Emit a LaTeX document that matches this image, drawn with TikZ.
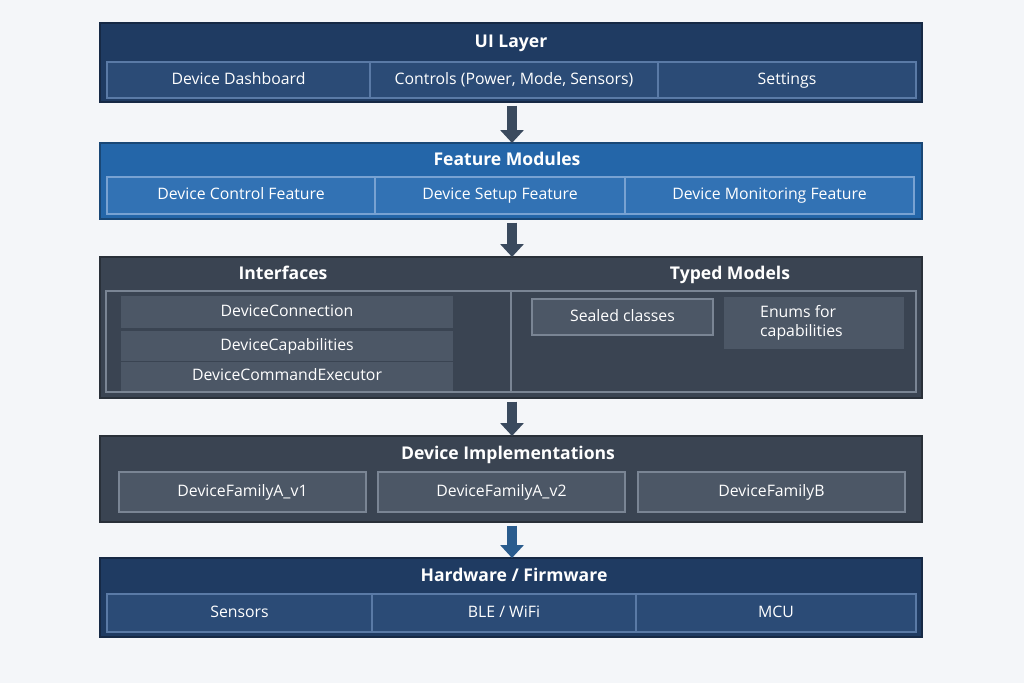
\documentclass[tikz,border=0pt]{standalone}
\usepackage{fontspec}
\setmainfont{Open Sans}
\usetikzlibrary{arrows.meta}
\definecolor{bgc}{HTML}{F4F6F9}
\definecolor{navy}{HTML}{1F3B62}
\definecolor{navyc}{HTML}{2B4B76}
\definecolor{navyb}{HTML}{5A7AA6}
\definecolor{blu}{HTML}{2466A9}
\definecolor{bluc}{HTML}{3272B4}
\definecolor{blub}{HTML}{78A2D2}
\definecolor{grey}{HTML}{3A4452}
\definecolor{greyc}{HTML}{4C5766}
\definecolor{greyb}{HTML}{7A8594}
\definecolor{arr}{HTML}{3A4A5E}
\definecolor{arrb}{HTML}{2A5C8E}
\tikzset{
 x=0.02cm,y=-0.02cm,
 layer/.style={draw=#1!70!black,fill=#1,line width=0.8pt,inner sep=0},
 cell/.style={draw=#1,line width=0.6pt,text=white,font=\fontsize{9}{10.5}\selectfont,inner sep=0},
 ttl/.style={text=white,font=\bfseries\fontsize{10}{12}\selectfont,text height=7.3pt,text depth=2pt},
 ctext/.style={text height=6.6pt,text depth=1.9pt},
 flow/.style={-{Triangle[width=0.46cm,length=0.26cm]},line width=5.5pt,draw=#1,shorten <=2pt},
}
\begin{document}
\begin{tikzpicture}
\fill[bgc] (0,0) rectangle (1024,683);
\useasboundingbox (0,0) rectangle (1024,683);
% layer 1
\draw[layer=navy] (100,23) rectangle (922,102);
\coordinate (l1s) at (512,102);
\node[ttl] (t1) at (511,43) {UI Layer};
\draw[cell=navyb,fill=navyc] (107,62) rectangle (370,98) node[pos=.5,ctext] (c11) {Device Dashboard};
\draw[cell=navyb,fill=navyc] (370,62) rectangle (658,98) node[pos=.5,ctext] (c12) {Controls (Power, Mode, Sensors)};
\draw[cell=navyb,fill=navyc] (658,62) rectangle (916,98) node[pos=.5,ctext] (c13) {Settings};
% layer 2
\draw[layer=blu] (100,143) rectangle (922,219);
\coordinate (l2n) at (512,143); \coordinate (l2s) at (512,219);
\node[ttl] (t2) at (507,161) {Feature Modules};
\draw[cell=blub,fill=bluc] (107,177) rectangle (375,214) node[pos=.5,ctext] (c21) {Device Control Feature};
\draw[cell=blub,fill=bluc] (375,177) rectangle (625,214) node[pos=.5,ctext] (c22) {Device Setup Feature};
\draw[cell=blub,fill=bluc] (625,177) rectangle (914,214) node[pos=.5,ctext] (c23) {Device Monitoring Feature};
% layer 3
\draw[layer=grey] (100,257) rectangle (922,398);
\coordinate (l3n) at (512,257); \coordinate (l3s) at (512,398);
\node[ttl] (t3a) at (283,275) {Interfaces};
\node[ttl] (t3b) at (730,275) {Typed Models};
\draw[greyb,line width=0.6pt] (106,291) rectangle (916,392) (511,291) -- (511,392);
\draw[cell=greyc,fill=greyc] (122,297) rectangle (452,327) node[pos=.5,ctext] (i1) {DeviceConnection};
\draw[cell=greyc,fill=greyc] (122,332) rectangle (452,360) node[pos=.5,ctext] (i2) {DeviceCapabilities};
\draw[cell=greyc,fill=greyc] (122,363) rectangle (452,390) node[pos=.5,ctext] (i3) {DeviceCommandExecutor};
\draw[cell=greyb,fill=greyc] (532,299) rectangle (713,335) node[pos=.5,ctext] (m1) {Sealed classes};
\draw[cell=greyc,fill=greyc] (725,298) rectangle (903,348);
\node[text=white,font=\fontsize{9}{11}\selectfont,align=left,anchor=west] (m2) at (754,323) {Enums for\\capabilities};
% layer 4
\draw[layer=grey] (100,436) rectangle (922,522);
\coordinate (l4n) at (512,436); \coordinate (l4s) at (512,522);
\node[ttl] (t4) at (508,455) {Device Implementations};
\draw[cell=greyb,fill=greyc] (119,472) rectangle (366,512) node[pos=.5,ctext] (d1) {DeviceFamilyA\_v1};
\draw[cell=greyb,fill=greyc] (378,472) rectangle (625,512) node[pos=.5,ctext] (d2) {DeviceFamilyA\_v2};
\draw[cell=greyb,fill=greyc] (638,472) rectangle (905,512) node[pos=.5,ctext] (d3) {DeviceFamilyB};
% layer 5
\draw[layer=navy] (100,558) rectangle (922,637);
\coordinate (l5n) at (512,558);
\node[ttl] (t5) at (514,577) {Hardware / Firmware};
\draw[cell=navyb,fill=navyc] (107,594) rectangle (372,632) node[pos=.5,ctext] (h1) {Sensors};
\draw[cell=navyb,fill=navyc] (372,594) rectangle (636,632) node[pos=.5,ctext] (h2) {BLE / WiFi};
\draw[cell=navyb,fill=navyc] (636,594) rectangle (916,632) node[pos=.5,ctext] (h3) {MCU};
% arrows
\draw[flow=arr] (l1s) -- (l2n);
\draw[flow=arr] (l2s) -- (l3n);
\draw[flow=arr] (l3s) -- (l4n);
\draw[flow=arrb] (l4s) -- (l5n);
\end{tikzpicture}
\end{document}
